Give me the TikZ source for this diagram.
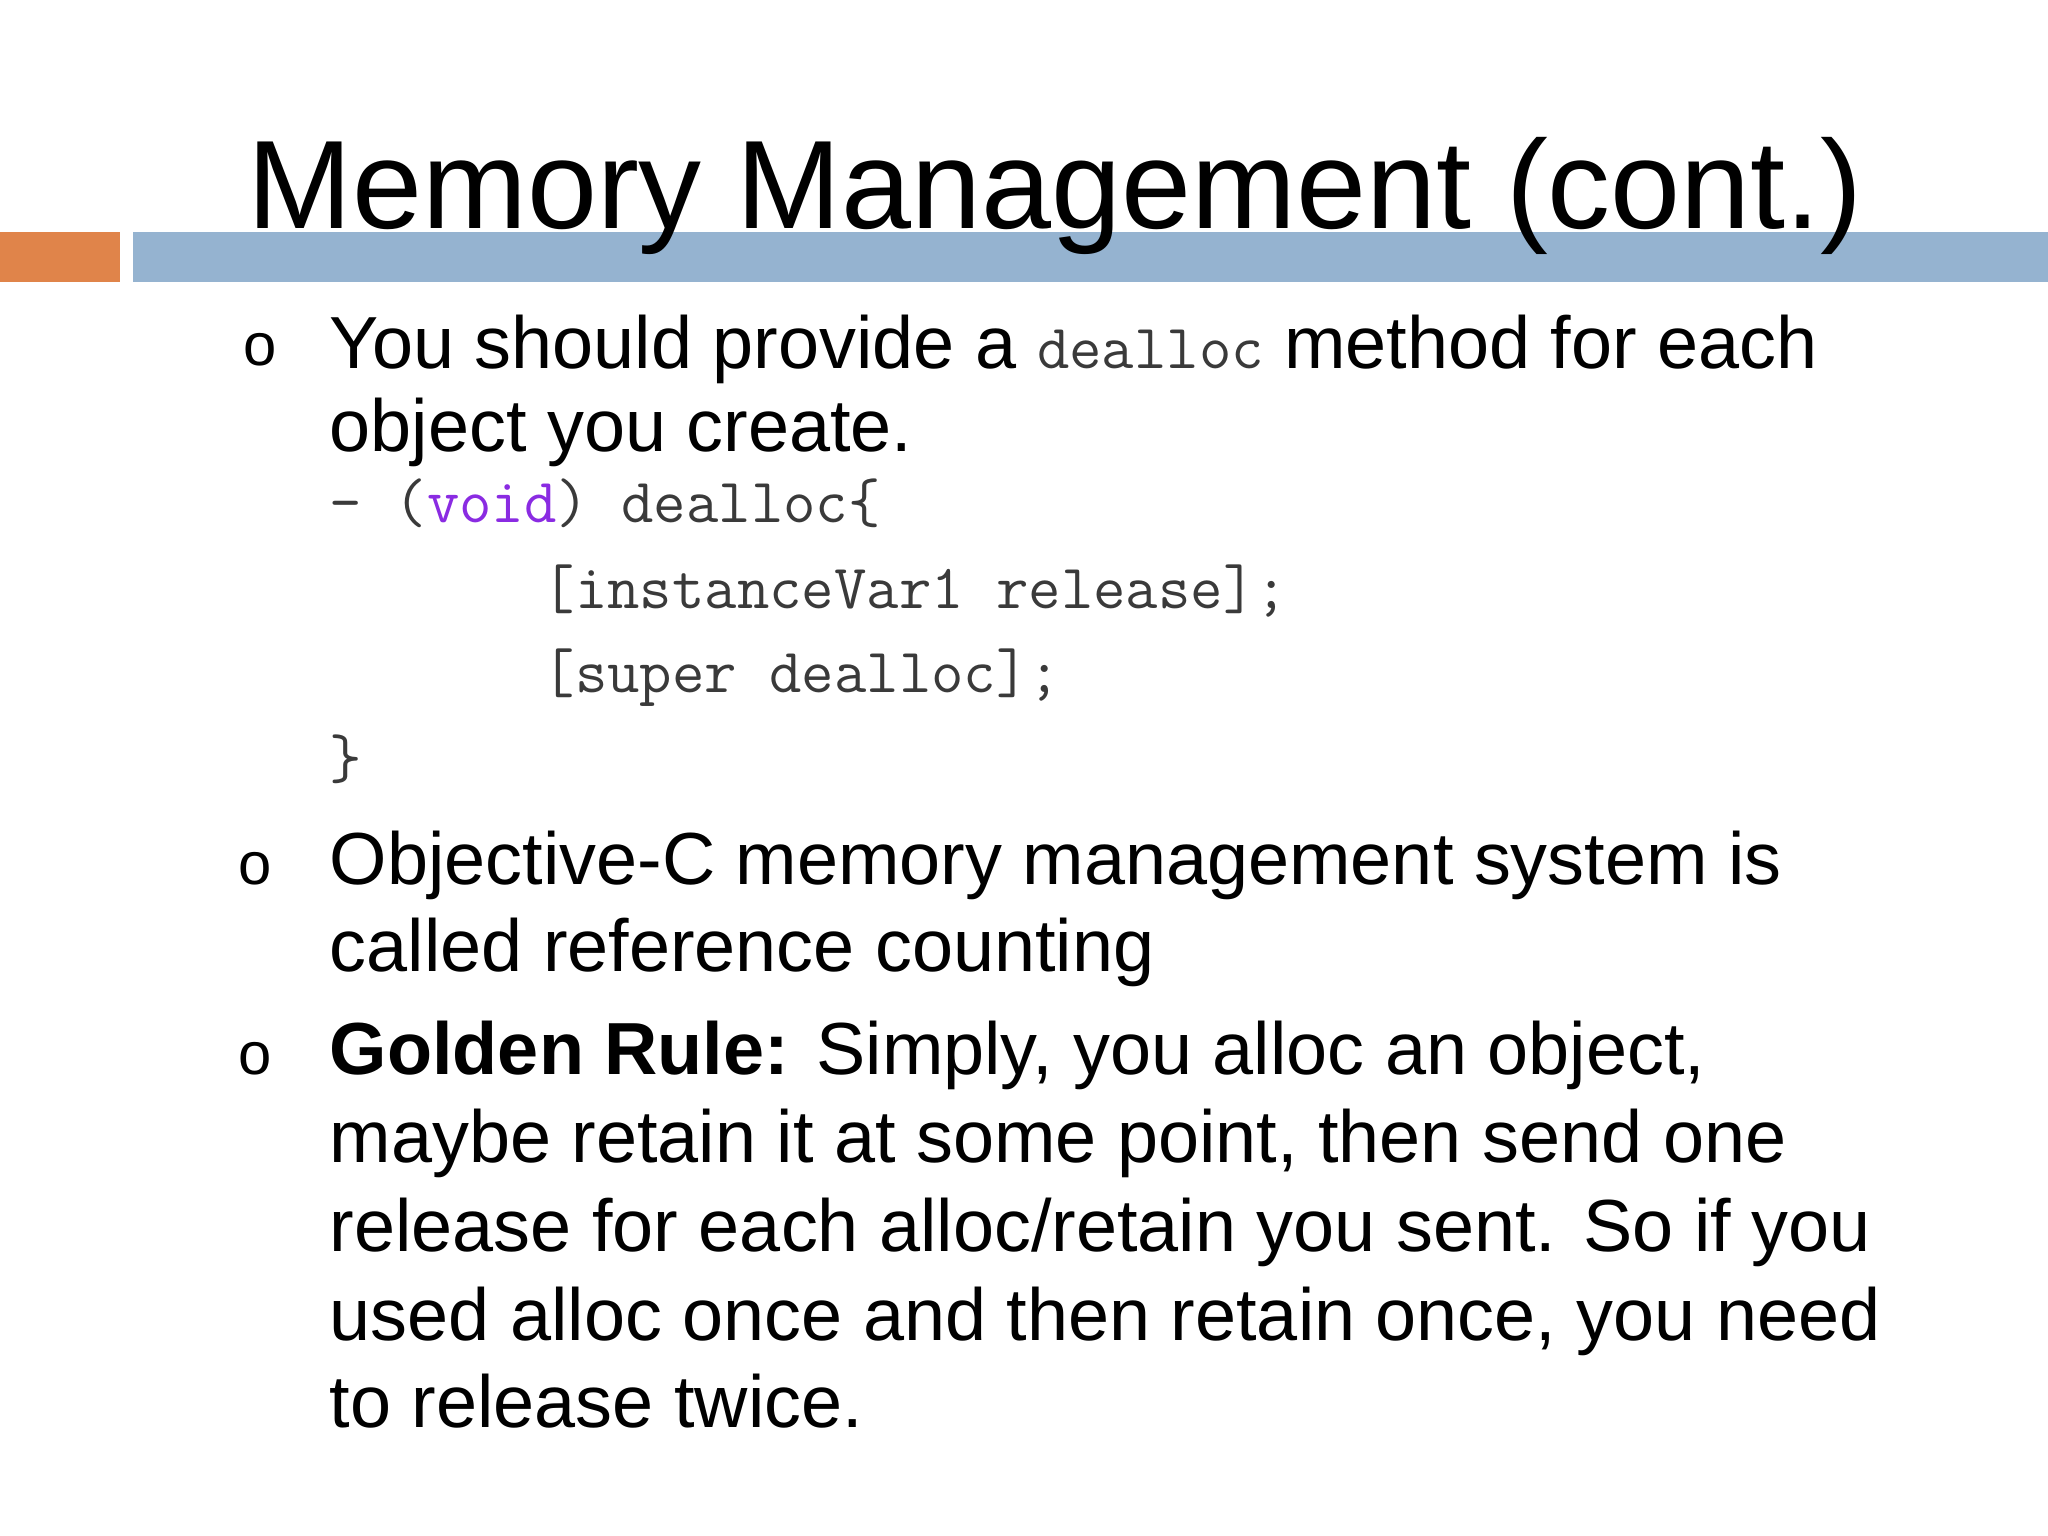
\documentclass[tikz,border=0pt]{standalone}
\usepackage{fontspec}
\setmainfont{Liberation Sans}
\definecolor{barorange}{HTML}{E0844A}
\definecolor{barblue}{HTML}{95B3D0}
\definecolor{codegray}{HTML}{3A3A3A}
\definecolor{kwpurple}{HTML}{8A2BE2}
\tikzset{
  txt/.style = {anchor=base west, inner sep=0pt, font=\fontsize{21pt}{25pt}\selectfont},
  code/.style = {anchor=base west, inner sep=0pt, text=codegray, font=\ttfamily\fontsize{17.9pt}{20pt}\selectfont},
  bul/.style = {anchor=base west, inner sep=0pt, font=\fontsize{17pt}{20pt}\selectfont}
}
\begin{document}
\begin{tikzpicture}[x=0.01306cm, y=-0.01306cm]
  \useasboundingbox (0,0) rectangle (1568,1176);
  \fill[barorange] (0,178) rectangle (92,216);
  \fill[barblue] (102,178) rectangle (1568,216);
  \node[txt, font=\fontsize{35.8pt}{40pt}\selectfont] (title) at (189,175) {Memory Management (cont.)};
  % bullet one
  \node[bul] (b1) at (186,280) {o};
  \node[txt] (l1) at (252,282) {You should provide a {\ttfamily\fontsize{17.9pt}{20pt}\selectfont\color{codegray}dealloc} method for each};
  \node[txt] (l2) at (252,346) {object you create.};
  \node[code] (c1) at (252,400) {- ({\color{kwpurple}void}) dealloc\{};
  \node[code] (c2) at (415,466) {[instanceVar1 release];};
  \node[code] (c3) at (415,530) {[super dealloc];};
  \node[code] (c4) at (252,596) {\}};
  % bullet two
  \node[bul] (b2) at (182,677) {o};
  \node[txt] (l3) at (252,677) {Objective-C memory management system is};
  \node[txt] (l4) at (252,744) {called reference counting};
  % bullet three
  \node[bul] (b3) at (182,823) {o};
  \node[txt] (l5) at (252,823) {\textbf{Golden Rule:} Simply, you alloc an object,};
  \node[txt] (l6) at (252,890) {maybe retain it at some point, then send one};
  \node[txt] (l7) at (252,958) {release for each alloc/retain you sent. So if you};
  \node[txt] (l8) at (252,1026) {used alloc once and then retain once, you need};
  \node[txt] (l9) at (252,1093) {to release twice.};
\end{tikzpicture}
\end{document}
